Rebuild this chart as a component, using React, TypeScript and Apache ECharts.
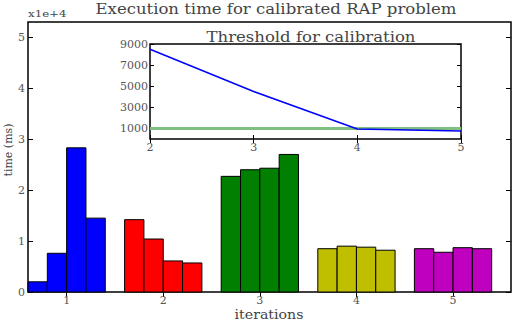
import React, { useEffect, useRef } from "react";
import * as echarts from "echarts";

const iterations = [1, 2, 3, 4, 5];
const iterationColors = ["#0000ff", "#ff0000", "#007f00", "#bfbf00", "#bf00bf"];
// execution times (ms) of the four runs in each iteration
const timesIter1 = [2000, 7600, 28300, 14500];
const timesIter2 = [14200, 10400, 6100, 5700];
const timesIter3 = [22700, 24000, 24300, 27000];
const timesIter4 = [8500, 9000, 8800, 8200];
const timesIter5 = [8500, 7800, 8700, 8500];
const mainYTicks = [0, 10000, 20000, 30000, 40000, 50000];

const insetX = [2, 3, 4, 5];
const insetBlue = [8500, 4500, 950, 750];
const insetGreen = [1000, 1000, 1000, 1000];
const insetYTicks = [1000, 3000, 5000, 7000, 9000];

const FONT = "DejaVu Serif";
const LABEL = "#555";
const SX = 1.18;

export default function App() {
  const ref = useRef<HTMLDivElement>(null);
  useEffect(() => {
    const chart = echarts.init(ref.current!, null, { renderer: "svg" });
    const groups = [timesIter1, timesIter2, timesIter3, timesIter4, timesIter5];
    const barData: any[] = [];
    groups.forEach((g, gi) =>
      g.forEach((v, ri) => barData.push([iterations[gi], ri, v, gi]))
    );
    const tickCommon = { inside: true, length: 5, lineStyle: { color: "#000", width: 1 } };
    chart.setOption({
      animation: false,
      backgroundColor: "#fff",
      grid: [
        { left: 28, top: 22, width: 483, height: 270, show: true, borderColor: "#000", borderWidth: 1.5, backgroundColor: "#fff" },
        { left: 150, top: 44, width: 311, height: 95, show: true, borderColor: "#000", borderWidth: 1.5, backgroundColor: "#fff" },
      ],
      xAxis: [
        {
          type: "value", gridIndex: 0, min: 0.6, max: 5.6, position: "bottom",
          splitLine: { show: false }, axisLine: { show: false },
          axisTick: { ...tickCommon, customValues: iterations },
          axisLabel: { customValues: iterations, color: LABEL, fontFamily: FONT, fontSize: 11, margin: 3 },
        },
        {
          type: "value", gridIndex: 0, min: 0.6, max: 5.6, position: "top",
          splitLine: { show: false }, axisLine: { show: false },
          axisTick: { ...tickCommon, customValues: iterations },
          axisLabel: { show: false },
        },
        {
          type: "value", gridIndex: 1, min: 2, max: 5, interval: 1, position: "bottom",
          splitLine: { show: false }, axisLine: { show: false },
          axisTick: { ...tickCommon, length: 4 },
          axisLabel: { color: LABEL, fontFamily: FONT, fontSize: 11, margin: 3 },
        },
        {
          type: "value", gridIndex: 1, min: 2, max: 5, interval: 1, position: "top",
          splitLine: { show: false }, axisLine: { show: false },
          axisTick: { ...tickCommon, length: 4 },
          axisLabel: { show: false },
        },
      ],
      yAxis: [
        {
          type: "value", gridIndex: 0, min: 0, max: 53000, position: "left",
          splitLine: { show: false }, axisLine: { show: false },
          axisTick: { ...tickCommon, customValues: mainYTicks },
          axisLabel: { customValues: mainYTicks, formatter: (v: number) => String(v / 10000), color: LABEL, fontFamily: FONT, fontSize: 11, margin: 3 },
        },
        {
          type: "value", gridIndex: 0, min: 0, max: 53000, position: "right",
          splitLine: { show: false }, axisLine: { show: false },
          axisTick: { ...tickCommon, customValues: mainYTicks },
          axisLabel: { show: false },
        },
        {
          type: "value", gridIndex: 1, min: 0, max: 9000, position: "left",
          splitLine: { show: false }, axisLine: { show: false },
          axisTick: { ...tickCommon, length: 4, customValues: insetYTicks },
          axisLabel: { customValues: insetYTicks, formatter: (v: number) => String(v), color: LABEL, fontFamily: FONT, fontSize: 11, margin: 2 },
        },
        {
          type: "value", gridIndex: 1, min: 0, max: 9000, position: "right",
          splitLine: { show: false }, axisLine: { show: false },
          axisTick: { ...tickCommon, length: 4, customValues: insetYTicks },
          axisLabel: { show: false },
        },
      ],
      series: [
        {
          type: "custom",
          xAxisIndex: 0,
          yAxisIndex: 0,
          data: barData,
          encode: { x: 0, y: 2 },
          renderItem: (params: any, api: any) => {
            const it = api.value(0);
            const run = api.value(1);
            const v = api.value(2);
            const gi = api.value(3);
            const x0 = it - 0.4 + run * 0.2;
            const p1 = api.coord([x0, v]);
            const p2 = api.coord([x0 + 0.2, 0]);
            return {
              type: "rect",
              shape: { x: p1[0], y: p1[1], width: p2[0] - p1[0], height: p2[1] - p1[1] },
              style: { fill: iterationColors[gi], stroke: "#000", lineWidth: 1 },
            };
          },
        },
        {
          type: "line", xAxisIndex: 2, yAxisIndex: 2, symbol: "none",
          data: insetX.map((x, i) => [x, insetGreen[i]]),
          lineStyle: { color: "#7fbf7f", width: 3 },
        },
        {
          type: "line", xAxisIndex: 2, yAxisIndex: 2, symbol: "none",
          data: insetX.map((x, i) => [x, insetBlue[i]]),
          lineStyle: { color: "#0000ff", width: 1.5 },
        },
      ],
      graphic: [
        { type: "text", x: 276, y: 9, scaleX: SX, style: { text: "Execution time for calibrated RAP problem", font: `14px '${FONT}'`, fill: "#444", align: "center", verticalAlign: "middle" } },
        { type: "text", x: 311, y: 37, scaleX: SX, style: { text: "Threshold for calibration", font: `14px '${FONT}'`, fill: "#444", align: "center", verticalAlign: "middle" } },
        { type: "text", x: 28, y: 14, scaleX: SX, style: { text: "x1e+4", font: `10px '${FONT}'`, fill: "#444", align: "left", verticalAlign: "middle" } },
        { type: "text", x: 8, y: 150, rotation: Math.PI / 2, style: { text: "time (ms)", font: `11px '${FONT}'`, fill: "#444", align: "center", verticalAlign: "middle" } },
        { type: "text", x: 269, y: 315, scaleX: SX, style: { text: "iterations", font: `12px '${FONT}'`, fill: "#444", align: "center", verticalAlign: "middle" } },
      ],
    });
    return () => chart.dispose();
  }, []);
  return <div ref={ref} style={{ width: 516, height: 323, position: "absolute", left: 0, top: 0 }} />;
}
